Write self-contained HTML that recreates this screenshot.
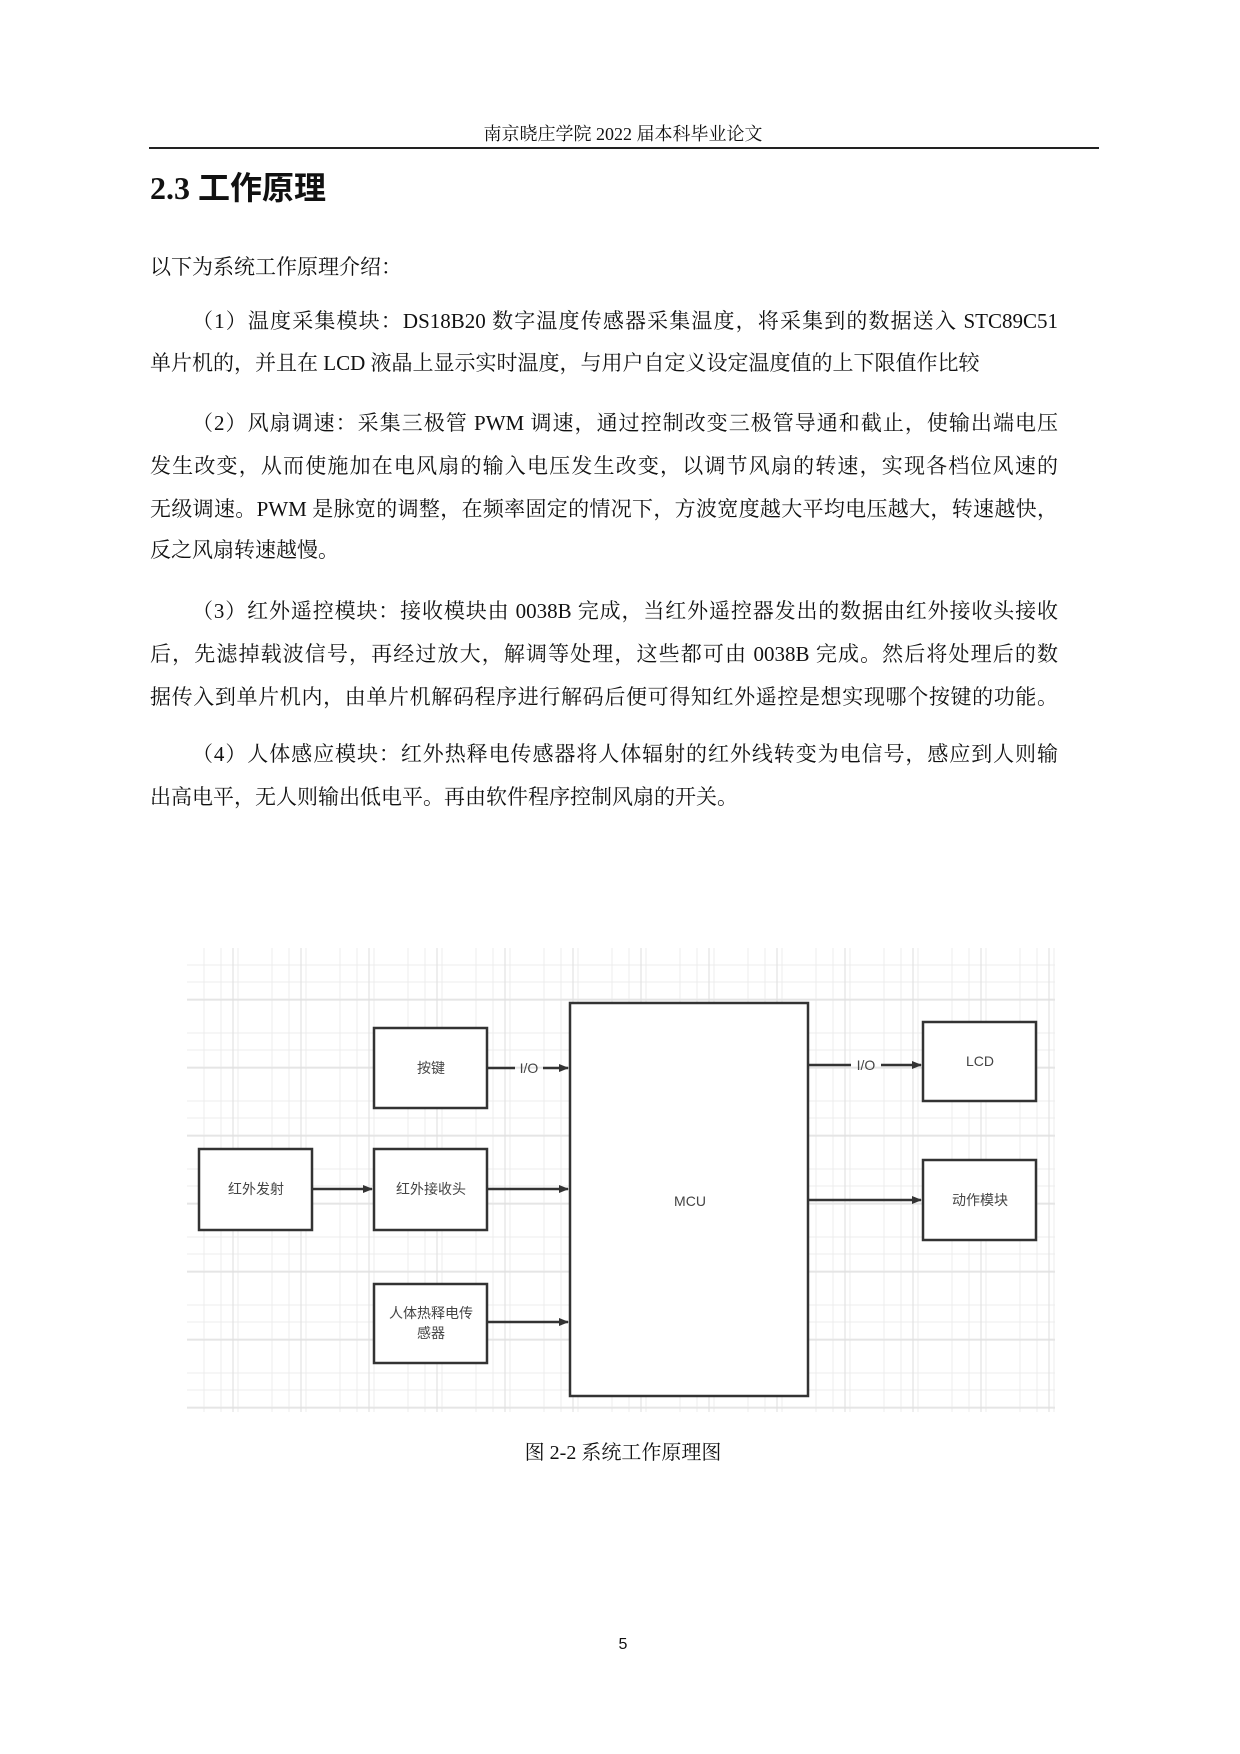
<!DOCTYPE html>
<html><head><meta charset="utf-8"><style>
body{margin:0;background:#fff;}
.p{position:relative;width:1240px;height:1754px;overflow:hidden;font-family:"Liberation Serif","Noto Serif CJK SC",serif;color:#111;}
.a{position:absolute;white-space:nowrap;}
.l{position:absolute;left:150px;width:908px;font-size:21px;line-height:26px;text-align:justify;text-align-last:justify;white-space:nowrap;}
.n{text-align-last:left;}
</style></head><body><div class="p">
<div class="a" style="left:0;width:1246px;text-align:center;top:120px;font-size:18px;">南京晓庄学院 2022 届本科毕业论文</div>
<div class="a" style="left:149px;top:147px;width:950px;height:2px;background:#222;"></div>
<div class="a" style="left:150px;top:163px;font-size:32px;font-weight:bold;font-family:'Liberation Serif','Noto Sans CJK SC',serif;">2.3 工作原理</div>
<div class="l n" style="top:254px;">以下为系统工作原理介绍：</div>
<div class="l" style="top:308px;padding-left:42px;width:866px;">（1）温度采集模块：DS18B20 数字温度传感器采集温度，将采集到的数据送入 STC89C51</div>
<div class="l n" style="top:350px;">单片机的，并且在 LCD 液晶上显示实时温度，与用户自定义设定温度值的上下限值作比较</div>
<div class="l" style="top:410px;padding-left:42px;width:866px;">（2）风扇调速：采集三极管 PWM 调速，通过控制改变三极管导通和截止，使输出端电压</div>
<div class="l" style="top:453px;">发生改变，从而使施加在电风扇的输入电压发生改变，以调节风扇的转速，实现各档位风速的</div>
<div class="l" style="top:496px;">无级调速。PWM 是脉宽的调整，在频率固定的情况下，方波宽度越大平均电压越大，转速越快，</div>
<div class="l n" style="top:537px;">反之风扇转速越慢。</div>
<div class="l" style="top:598px;padding-left:42px;width:866px;">（3）红外遥控模块：接收模块由 0038B 完成，当红外遥控器发出的数据由红外接收头接收</div>
<div class="l" style="top:641px;">后，先滤掉载波信号，再经过放大，解调等处理，这些都可由 0038B 完成。然后将处理后的数</div>
<div class="l" style="top:684px;">据传入到单片机内，由单片机解码程序进行解码后便可得知红外遥控是想实现哪个按键的功能。</div>
<div class="l" style="top:741px;padding-left:42px;width:866px;">（4）人体感应模块：红外热释电传感器将人体辐射的红外线转变为电信号，感应到人则输</div>
<div class="l n" style="top:784px;">出高电平，无人则输出低电平。再由软件程序控制风扇的开关。</div>

<svg class="a" style="left:0;top:0" width="1240" height="1754" xmlns="http://www.w3.org/2000/svg">
<defs>
<pattern id="g" x="187" y="948" width="68" height="68" patternUnits="userSpaceOnUse">
<path d="M17 0V68M34 0V68M51 0V68M0 17H68M0 34H68M0 51H68" stroke="#ececec" stroke-width="1"/>
<path d="M46 0V68M0 52H68" stroke="#dedede" stroke-width="1"/>
</pattern>
<marker id="ar" markerWidth="10" markerHeight="8" refX="9" refY="4" orient="auto" markerUnits="userSpaceOnUse"><path d="M0 0L10 4L0 8z" fill="#333"/></marker>
</defs>
<rect x="187" y="948" width="868" height="464" fill="url(#g)"/>
<g fill="#fff" stroke="#333" stroke-width="2.5">
<rect x="374" y="1028" width="113" height="80"/>
<rect x="199" y="1149" width="113" height="81"/>
<rect x="374" y="1149" width="113" height="81"/>
<rect x="374" y="1284" width="113" height="79"/>
<rect x="570" y="1003" width="238" height="393"/>
<rect x="923" y="1022" width="113" height="79"/>
<rect x="923" y="1160" width="113" height="80"/>
</g>
<g stroke="#333" stroke-width="2.5" fill="none">
<path d="M487 1068H515M543 1068H568" marker-end="url(#ar)"/>
<path d="M808 1065H851M881 1065H921" marker-end="url(#ar)"/>
<path d="M312 1189H372" marker-end="url(#ar)"/>
<path d="M487 1189H568" marker-end="url(#ar)"/>
<path d="M808 1200H921" marker-end="url(#ar)"/>
<path d="M487 1322H568" marker-end="url(#ar)"/>
</g>
<g font-family="Liberation Sans,Noto Sans CJK SC,sans-serif" font-size="14" fill="#444" text-anchor="middle">
<text x="431" y="1073">按键</text>
<text x="256" y="1194">红外发射</text>
<text x="431" y="1194">红外接收头</text>
<text x="431" y="1318">人体热释电传</text>
<text x="431" y="1338">感器</text>
<text x="690" y="1206">MCU</text>
<text x="980" y="1066">LCD</text>
<text x="980" y="1205">动作模块</text>
<text x="529" y="1073">I/O</text>
<text x="866" y="1070">I/O</text>
</g>
</svg>
<div class="a" style="left:0;width:1246px;text-align:center;top:1436px;font-size:20px;">图 2-2 系统工作原理图</div>
<div class="a" style="left:0;width:1246px;text-align:center;top:1636px;font-size:16px;font-family:'Liberation Sans',sans-serif;">5</div>
</div></body></html>
